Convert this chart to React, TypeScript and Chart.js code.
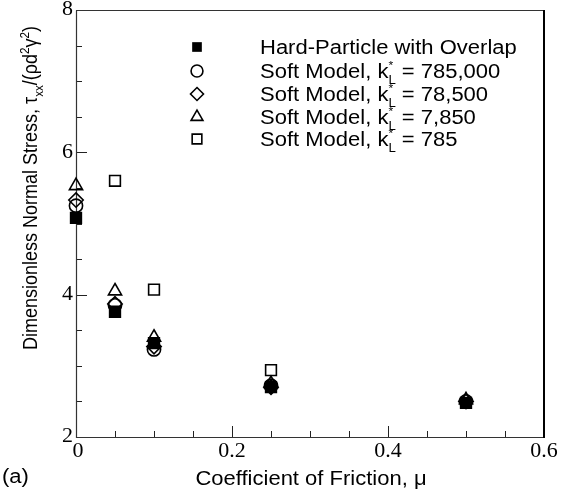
import React, { useEffect, useRef } from 'react';
import { Chart, registerables } from 'chart.js';

Chart.register(...registerables);

// Friction coefficients and normalised normal stress for each model
const frictionAll = [0, 0.05, 0.1, 0.25, 0.5];
const stressHard = [5.08, 3.76, 3.32, 2.7, 2.48];
const stressSoft785000 = [5.25, 3.85, 3.23, 2.72, 2.5];
const stressSoft78500 = [5.33, 3.87, 3.27, 2.7, 2.5];
const stressSoft7850 = [5.53, 4.05, 3.4, 2.75, 2.52];
const frictionSoft785 = [0.05, 0.1, 0.25];
const stressSoft785 = [5.6, 4.07, 2.94];

const stiffnessLabels = ['785,000', '78,500', '7,850', '785'];

const xTickValues = [0, 0.2, 0.4, 0.6];
const xTickLabels = ['0', '0.2', '0.4', '0.6'];
const yTickValues = [2, 4, 6, 8];
const yTickLabels = ['2', '4', '6', '8'];

const SANS = '"Liberation Sans", Arial, sans-serif';
const SERIF = '"Liberation Serif", "Times New Roman", serif';
const STRETCH = 1.1;

type Seg = { t: string; dy?: number; s?: number; hold?: boolean };

function richWidth(ctx: CanvasRenderingContext2D, segs: Seg[], size: number, family: string) {
  let w = 0;
  for (const g of segs) {
    ctx.font = `${size * (g.s ?? 1)}px ${family}`;
    if (!g.hold) w += ctx.measureText(g.t).width;
  }
  return w;
}

function drawRich(ctx: CanvasRenderingContext2D, segs: Seg[], x: number, y: number, size: number, family: string) {
  let cx = x;
  ctx.textAlign = 'left';
  ctx.textBaseline = 'alphabetic';
  for (const g of segs) {
    ctx.font = `${size * (g.s ?? 1)}px ${family}`;
    ctx.fillText(g.t, cx, y + (g.dy ?? 0) * size);
    if (!g.hold) cx += ctx.measureText(g.t).width;
  }
}

function stretchedText(
  ctx: CanvasRenderingContext2D,
  str: string,
  x: number,
  y: number,
  font: string,
  align: CanvasTextAlign,
  baseline: CanvasTextBaseline
) {
  ctx.save();
  ctx.translate(x, y);
  ctx.scale(STRETCH, 1);
  ctx.font = font;
  ctx.textAlign = align;
  ctx.textBaseline = baseline;
  ctx.fillText(str, 0, 0);
  ctx.restore();
}

type Marker = { style: string; radius: number; filled: boolean };
const markers: Marker[] = [
  { style: 'rect', radius: 7.6, filled: true },
  { style: 'circle', radius: 6.6, filled: false },
  { style: 'rectRot', radius: 7.2, filled: false },
  { style: 'triangle', radius: 7.6, filled: false },
  { style: 'rect', radius: 7.6, filled: false },
];

function drawMarker(ctx: CanvasRenderingContext2D, m: Marker, x: number, y: number) {
  const r = m.radius;
  ctx.beginPath();
  if (m.style === 'rect') {
    const h = r * Math.SQRT1_2;
    ctx.rect(x - h, y - h, 2 * h, 2 * h);
  } else if (m.style === 'circle') {
    ctx.arc(x, y, r, 0, Math.PI * 2);
  } else if (m.style === 'rectRot') {
    ctx.moveTo(x, y - r);
    ctx.lineTo(x + r, y);
    ctx.lineTo(x, y + r);
    ctx.lineTo(x - r, y);
    ctx.closePath();
  } else {
    ctx.moveTo(x, y - r);
    ctx.lineTo(x + r * Math.sin(Math.PI / 3), y + r * 0.5);
    ctx.lineTo(x - r * Math.sin(Math.PI / 3), y + r * 0.5);
    ctx.closePath();
  }
  if (m.filled) {
    ctx.fillStyle = '#000';
    ctx.fill();
  } else {
    ctx.strokeStyle = '#000';
    ctx.lineWidth = 1.6;
    ctx.stroke();
  }
}

const framePlugin = {
  id: 'frame',
  beforeDatasetsDraw(chart: any) {
    const { ctx, chartArea: a, scales } = chart;
    const xs = scales.x;
    const ys = scales.y;
    ctx.save();
    ctx.strokeStyle = '#222';
    ctx.lineWidth = 1;
    // inward ticks on the bottom axis
    for (let i = 0; i <= 12; i++) {
      const v = i * 0.05;
      const px = Math.round(xs.getPixelForValue(v)) + 0.5;
      const len = i % 4 === 0 ? 11 : 6;
      ctx.beginPath();
      ctx.moveTo(px, a.bottom);
      ctx.lineTo(px, a.bottom - len);
      ctx.stroke();
    }
    // inward ticks on the left axis
    for (let i = 0; i <= 12; i++) {
      const v = 2 + i * 0.5;
      const py = Math.round(ys.getPixelForValue(v)) + 0.5;
      const len = i % 4 === 0 ? 11 : 6;
      ctx.beginPath();
      ctx.moveTo(a.left, py);
      ctx.lineTo(a.left + len, py);
      ctx.stroke();
    }
    // plot frame
    ctx.strokeStyle = '#333';
    ctx.lineWidth = 1.2;
    ctx.beginPath();
    ctx.moveTo(a.left + 0.5, a.top + 0.5);
    ctx.lineTo(a.left + 0.5, a.bottom + 0.5);
    ctx.lineTo(a.right, a.bottom + 0.5);
    ctx.moveTo(a.left + 0.5, a.top + 0.5);
    ctx.lineTo(a.right, a.top + 0.5);
    ctx.stroke();
    ctx.strokeStyle = '#000';
    ctx.lineWidth = 2;
    ctx.beginPath();
    ctx.moveTo(a.right, a.top);
    ctx.lineTo(a.right, a.bottom + 1);
    ctx.stroke();
    ctx.restore();
  },
  afterDraw(chart: any) {
    const { ctx, chartArea: a, scales } = chart;
    const xs = scales.x;
    const ys = scales.y;
    ctx.save();
    ctx.fillStyle = '#000';

    // tick labels
    const tickFont = `20px ${SERIF}`;
    xTickValues.forEach((v, i) => {
      stretchedText(ctx, xTickLabels[i], xs.getPixelForValue(v) + (i === 0 ? 2 : 0), a.bottom + 15, tickFont, 'center', 'middle');
    });
    yTickValues.forEach((v, i) => {
      stretchedText(ctx, yTickLabels[i], a.left - 3, ys.getPixelForValue(v), tickFont, 'right', 'middle');
    });

    // x axis title
    stretchedText(ctx, 'Coefficient of Friction, μ', (a.left + a.right) / 2 + 1, 485, `20px ${SANS}`, 'center', 'alphabetic');

    // panel tag
    stretchedText(ctx, '(a)', 2, 483, `20px ${SANS}`, 'left', 'alphabetic');

    // y axis title, rotated
    const ySegs: Seg[] = [
      { t: 'Dimensionless Normal Stress, τ' },
      { t: 'xx', dy: 0.3, s: 0.65 },
      { t: '/(ρd' },
      { t: '2', dy: -0.4, s: 0.65 },
      { t: 'γ' },
      { t: '2', dy: -0.4, s: 0.65 },
      { t: ')' },
    ];
    const ySize = 18;
    const yw = richWidth(ctx, ySegs, ySize, SANS);
    ctx.save();
    ctx.translate(37, 188);
    ctx.rotate(-Math.PI / 2);
    ctx.scale(1, STRETCH);
    drawRich(ctx, ySegs, -yw / 2, 0, ySize, SANS);
    ctx.restore();

    // legend
    const rowY = [47, 71, 94, 117, 139];
    const markerX = 197;
    const textX = 260;
    const lSize = 20;
    rowY.forEach((ry, i) => {
      drawMarker(ctx, { ...markers[i], radius: markers[i].radius * 0.9 }, markerX, ry);
      ctx.fillStyle = '#000';
      const segs: Seg[] =
        i === 0
          ? [{ t: 'Hard-Particle with Overlap' }]
          : [
              { t: 'Soft Model, k' },
              { t: '*', dy: -0.45, s: 0.55, hold: true },
              { t: 'L', dy: 0.3, s: 0.6 },
              { t: ' = ' + stiffnessLabels[i - 1] },
            ];
      ctx.save();
      ctx.translate(textX, ry + 7);
      ctx.scale(STRETCH, 1);
      drawRich(ctx, segs, 0, 0, lSize, SANS);
      ctx.restore();
    });
    ctx.restore();
  },
};

function toPoints(xs: number[], ys: number[]) {
  return xs.map((x, i) => ({ x, y: ys[i] }));
}

export default function App() {
  const canvasRef = useRef<HTMLCanvasElement | null>(null);

  useEffect(() => {
    document.body.style.margin = '0';
    const canvas = canvasRef.current;
    if (!canvas) return;
    const seriesData = [
      toPoints(frictionAll, stressHard),
      toPoints(frictionAll, stressSoft785000),
      toPoints(frictionAll, stressSoft78500),
      toPoints(frictionAll, stressSoft7850),
      toPoints(frictionSoft785, stressSoft785),
    ];
    const datasets = seriesData.map((data, i) => ({
      data,
      pointStyle: markers[i].style as any,
      pointRadius: markers[i].radius,
      pointHoverRadius: markers[i].radius,
      pointBorderWidth: 1.6,
      pointBorderColor: '#000',
      pointBackgroundColor: markers[i].filled ? '#000' : 'rgba(0,0,0,0)',
      showLine: false,
      clip: false as any,
    }));
    const chart = new Chart(canvas, {
      type: 'scatter',
      data: { datasets },
      options: {
        animation: false,
        responsive: false,
        devicePixelRatio: 1,
        layout: { padding: { left: 76, top: 10, right: 24, bottom: 58 } },
        plugins: { legend: { display: false }, tooltip: { enabled: false } },
        scales: {
          x: { type: 'linear', min: 0, max: 0.6, display: false },
          y: { type: 'linear', min: 2, max: 8, display: false },
        },
      },
      plugins: [framePlugin],
    });
    return () => chart.destroy();
  }, []);

  return (
    <div style={{ position: 'absolute', left: 0, top: 0, width: 568, height: 495, background: '#fff' }}>
      <canvas ref={canvasRef} width={568} height={495} />
    </div>
  );
}
